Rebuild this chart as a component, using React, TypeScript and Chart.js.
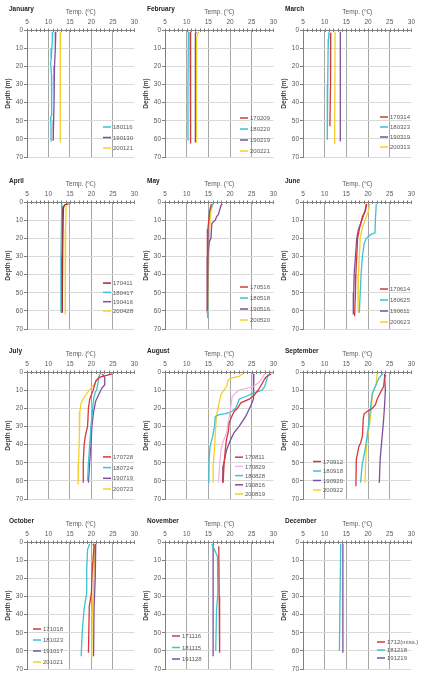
import React, { useEffect, useRef } from "react";
import { Chart, registerables } from "chart.js";
Chart.register(...registerables);

// ---------- colours ----------
const RED = "#d5383b";
const DARKRED = "#a3282c";
const CYAN = "#3cc2d2";
const PURPLE = "#7f4f9e";
const YELLOW = "#f6cf2a";
const PINK = "#f2b6e8";

// ---------- data (depth in m, temperature in °C) ----------
// January
const jan180116Depth = [1, 5, 10, 17, 18, 25, 35, 47, 48, 55, 61.5];
const jan180116Temp = [11.0, 10.9, 10.8, 10.6, 10.5, 10.7, 10.8, 10.7, 10.5, 10.6, 10.6];
const jan190130Depth = [1, 10, 20, 30, 40, 50, 61];
const jan190130Temp = [11.7, 11.6, 11.4, 11.3, 11.3, 11.2, 11.1];
const jan200121Depth = [1, 20, 40, 62];
const jan200121Temp = [12.8, 12.8, 12.7, 12.7];
// February
const feb170209Depth = [1, 30, 62.5];
const feb170209Temp = [10.8, 10.9, 10.9];
const feb180220Depth = [1, 30, 61];
const feb180220Temp = [10.4, 10.3, 10.3];
const feb190219Depth = [1, 2, 30, 62];
const feb190219Temp = [12.2, 12.0, 12.0, 12.0];
const feb200221Depth = [1, 2, 4, 30, 62];
const feb200221Temp = [12.8, 12.5, 12.3, 12.3, 12.2];
// March
const mar170314Depth = [1.5, 10, 30, 53];
const mar170314Temp = [11.4, 11.4, 11.3, 11.2];
const mar180323Depth = [1, 5, 10, 30, 60.5];
const mar180323Temp = [11.0, 10.9, 10.8, 10.7, 10.6];
const mar190319Depth = [1, 61.5];
const mar190319Temp = [13.6, 13.6];
const mar200313Depth = [1, 63];
const mar200313Temp = [12.4, 12.3];
// April
const apr170411Depth = [1, 1.5, 3, 10, 30, 61];
const apr170411Temp = [14.7, 13.8, 13.5, 13.4, 13.3, 13.2];
const apr180417Depth = [1, 30, 61];
const apr180417Temp = [13.1, 12.9, 12.9];
const apr190416Depth = [2, 3, 10, 30, 61];
const apr190416Temp = [13.5, 13.3, 13.3, 13.1, 13.2];
const apr200428Depth = [1, 2, 15, 62];
const apr200428Temp = [14.3, 14.1, 14.0, 13.9];
// May
const may170516Depth = [1, 3, 5, 10, 15, 20, 30, 45, 60];
const may170516Temp = [15.7, 15.5, 15.3, 15.1, 14.9, 14.9, 14.8, 14.7, 14.7];
const may180518Depth = [1, 3, 5, 10, 20, 30, 40, 50, 64];
const may180518Temp = [16.1, 15.7, 15.2, 15.1, 14.9, 14.9, 14.8, 14.8, 14.8];
const may190516Depth = [1, 2, 7, 8, 10, 11, 12, 20, 22, 30, 45, 61];
const may190516Temp = [18.2, 17.9, 17.3, 16.9, 16.6, 16.1, 15.8, 15.6, 15.2, 14.9, 14.8, 14.7];
const may200520Depth = [1, 5, 10, 20, 40, 62];
const may200520Temp = [15.9, 15.6, 15.4, 15.2, 15.0, 14.8];
// June
const jun170614Depth = [1, 5, 8, 15, 20, 30, 40, 50, 63];
const jun170614Temp = [19.7, 19.4, 18.7, 18.0, 17.6, 17.4, 17.2, 17.1, 16.9];
const jun180625Depth = [1, 10, 17, 18, 20, 23, 30, 40, 50, 61];
const jun180625Temp = [21.9, 21.7, 21.6, 20.6, 19.6, 19.1, 18.7, 18.4, 18.2, 18.0];
const jun190611Depth = [1, 5, 12, 15, 20, 30, 40, 50, 62];
const jun190611Temp = [19.6, 19.3, 18.3, 17.8, 17.4, 17.1, 16.8, 16.7, 16.6];
const jun200623Depth = [1, 5, 10, 15, 20, 30, 40, 61];
const jun200623Temp = [20.4, 20.1, 19.3, 18.6, 18.2, 18.0, 17.8, 17.7];
// July
const jul170728Depth = [1, 2, 3, 5, 10, 15, 20, 30, 35, 40, 50, 61];
const jul170728Temp = [24.8, 23.3, 21.8, 21.0, 20.4, 19.6, 19.3, 19.1, 18.6, 18.3, 18.1, 18.1];
const jul180724Depth = [1, 5, 10, 11, 15, 20, 30, 40, 50, 60];
const jul180724Temp = [21.9, 21.6, 21.2, 20.9, 20.5, 20.3, 19.9, 19.6, 19.3, 19.1];
const jul190719Depth = [1, 3, 7, 9, 12, 16, 22, 30, 40, 50, 61];
const jul190719Temp = [22.5, 23.1, 23.1, 22.4, 21.8, 21.0, 20.5, 20.1, 19.9, 19.6, 19.3];
const jul200723Depth = [1, 3, 7, 10, 14, 17, 22, 35, 50, 62];
const jul200723Temp = [22.0, 21.8, 20.6, 19.5, 18.3, 17.6, 17.3, 17.2, 17.0, 16.9];
// August
const aug170811Depth = [1, 3, 8, 10, 13, 15, 17, 20, 22, 24.5, 28, 33, 37, 43, 52, 61];
const aug170811Temp = [29.5, 28.2, 27.0, 26.5, 25.5, 24.4, 22.5, 21.7, 20.9, 20.4, 19.8, 19.6, 19.2, 18.9, 18.6, 18.4];
const aug170829Depth = [1, 5, 8, 10, 11.5, 13.5, 19, 24.5, 33.5, 39, 43, 52, 61];
const aug170829Temp = [28.0, 27.0, 25.5, 22.1, 21.3, 20.5, 20.2, 19.8, 19.2, 18.3, 17.9, 17.6, 17.3];
const aug180828Depth = [1, 4, 8, 10, 11.5, 13.5, 15, 20, 22, 23, 23.5, 24.5, 30, 35.5, 41, 46.5, 61];
const aug180828Temp = [28.8, 28.5, 28.0, 27.4, 25.5, 23.6, 22.1, 21.3, 20.2, 19.0, 17.5, 16.6, 16.4, 16.0, 15.4, 15.2, 15.1];
const aug190816Depth = [1, 10, 15, 19, 24.5, 30, 33.5, 37, 43, 46.5, 52, 61];
const aug190816Temp = [25.5, 25.5, 25.3, 24.7, 23.6, 22.1, 20.9, 20.2, 19.2, 18.9, 18.4, 18.3];
const aug200819Depth = [1, 2.4, 3.3, 4.2, 8, 10, 12.5, 19, 24.5, 33.5, 43, 52, 61];
const aug200819Temp = [23.0, 22.1, 20.5, 19.6, 19.2, 18.6, 17.9, 17.3, 16.9, 16.6, 16.4, 16.1, 16.1];
// September
const sep170912Depth = [1.5, 3.3, 8, 11.6, 15, 18, 20, 22, 23, 26, 35.5, 39, 41, 44.7, 48, 63];
const sep170912Temp = [24.1, 23.8, 23.6, 22.8, 22.1, 21.7, 21.0, 19.6, 19.1, 18.9, 18.7, 18.3, 17.9, 17.6, 17.3, 17.2];
const sep180918Depth = [1, 3.3, 8, 11.6, 19, 28, 37, 43, 48, 52, 61];
const sep180918Temp = [23.4, 22.5, 21.7, 21.0, 20.6, 20.2, 19.7, 19.3, 18.9, 18.6, 18.3];
const sep190920Depth = [1, 10, 19, 26, 37, 48, 61];
const sep190920Temp = [23.8, 24.0, 23.8, 23.6, 23.2, 22.8, 22.6];
const sep200922Depth = [1, 6, 11.6, 19, 28, 37, 46.5, 61];
const sep200922Temp = [22.1, 21.9, 21.1, 20.8, 20.4, 19.8, 19.5, 19.3];
// October
const oct171018Depth = [1, 2.4, 15, 28, 35.5, 61];
const oct171018Temp = [20.4, 20.6, 20.2, 20.0, 19.5, 19.3];
const oct181023Depth = [1, 4.2, 15, 28, 37, 48, 63];
const oct181023Temp = [19.6, 19.1, 18.9, 18.9, 18.3, 17.9, 17.6];
const oct191017Depth = [1, 19, 37, 63];
const oct191017Temp = [21.0, 20.9, 20.6, 20.5];
const oct201021Depth = [1, 19, 37, 64];
const oct201021Temp = [20.8, 20.6, 20.2, 20.1];
// November
const nov171116Depth = [2.4, 30, 61];
const nov171116Temp = [17.4, 17.5, 17.6];
const nov181115Depth = [1, 4.2, 8, 28, 37, 60];
const nov181115Temp = [15.8, 16.4, 17.1, 17.2, 16.9, 16.7];
const nov191128Depth = [1, 63];
const nov191128Temp = [16.1, 16.1];
// December
const dec1712Depth: number[] = [];
const dec1712Temp: number[] = [];
const dec181218Depth = [1, 60];
const dec181218Temp = [13.7, 13.4];
const dec191219Depth = [1, 61];
const dec191219Temp = [14.2, 14.2];

// ---------- axis ticks ----------
const TEMP_MIN = 5;
const TEMP_MAX = 30;
const TEMP_STEP = 5;
const DEPTH_MIN = 0;
const DEPTH_MAX = 70;
const DEPTH_STEP = 10;

type Series = { label: string; depth: number[]; temp: number[]; color: string };
type Panel = {
  month: string;
  col: number;
  row: number;
  series: Series[];
  legendX: number;
  legendGap: number;
  legendStep: number;
};

const s = (label: string, depth: number[], temp: number[], color: string): Series => ({ label, depth, temp, color });

const PANELS: Panel[] = [
  { month: "January", col: 0, row: 0, legendX: 76, legendGap: 9, legendStep: 10.5, series: [
    s("180116", jan180116Depth, jan180116Temp, CYAN),
    s("190130", jan190130Depth, jan190130Temp, PURPLE),
    s("200121", jan200121Depth, jan200121Temp, YELLOW)] },
  { month: "February", col: 1, row: 0, legendX: 75, legendGap: 6, legendStep: 11, series: [
    s("170209", feb170209Depth, feb170209Temp, RED),
    s("180220", feb180220Depth, feb180220Temp, CYAN),
    s("190219", feb190219Depth, feb190219Temp, PURPLE),
    s("200221", feb200221Depth, feb200221Temp, YELLOW)] },
  { month: "March", col: 2, row: 0, legendX: 77, legendGap: 10, legendStep: 10, series: [
    s("170314", mar170314Depth, mar170314Temp, RED),
    s("180323", mar180323Depth, mar180323Temp, CYAN),
    s("190319", mar190319Depth, mar190319Temp, PURPLE),
    s("200313", mar200313Depth, mar200313Temp, YELLOW)] },
  { month: "April", col: 0, row: 1, legendX: 76, legendGap: 18, legendStep: 9.3, series: [
    s("170411", apr170411Depth, apr170411Temp, DARKRED),
    s("180417", apr180417Depth, apr180417Temp, CYAN),
    s("190416", apr190416Depth, apr190416Temp, PURPLE),
    s("200428", apr200428Depth, apr200428Temp, YELLOW)] },
  { month: "May", col: 1, row: 1, legendX: 75, legendGap: 9, legendStep: 11, series: [
    s("170516", may170516Depth, may170516Temp, RED),
    s("180518", may180518Depth, may180518Temp, CYAN),
    s("190516", may190516Depth, may190516Temp, PURPLE),
    s("200520", may200520Depth, may200520Temp, YELLOW)] },
  { month: "June", col: 2, row: 1, legendX: 77, legendGap: 7, legendStep: 11, series: [
    s("170614", jun170614Depth, jun170614Temp, RED),
    s("180625", jun180625Depth, jun180625Temp, CYAN),
    s("190611", jun190611Depth, jun190611Temp, PURPLE),
    s("200623", jun200623Depth, jun200623Temp, YELLOW)] },
  { month: "July", col: 0, row: 2, legendX: 76, legendGap: 10, legendStep: 10.7, series: [
    s("170728", jul170728Depth, jul170728Temp, RED),
    s("180724", jul180724Depth, jul180724Temp, CYAN),
    s("190719", jul190719Depth, jul190719Temp, PURPLE),
    s("200723", jul200723Depth, jul200723Temp, YELLOW)] },
  { month: "August", col: 1, row: 2, legendX: 70, legendGap: 5, legendStep: 9.2, series: [
    s("170811", aug170811Depth, aug170811Temp, RED),
    s("170829", aug170829Depth, aug170829Temp, PINK),
    s("180828", aug180828Depth, aug180828Temp, CYAN),
    s("190816", aug190816Depth, aug190816Temp, PURPLE),
    s("200819", aug200819Depth, aug200819Temp, YELLOW)] },
  { month: "September", col: 2, row: 2, legendX: 10, legendGap: 9, legendStep: 9.5, series: [
    s("170912", sep170912Depth, sep170912Temp, RED),
    s("180918", sep180918Depth, sep180918Temp, CYAN),
    s("190920", sep190920Depth, sep190920Temp, PURPLE),
    s("200922", sep200922Depth, sep200922Temp, YELLOW)] },
  { month: "October", col: 0, row: 3, legendX: 6, legendGap: 7, legendStep: 11, series: [
    s("171018", oct171018Depth, oct171018Temp, RED),
    s("181023", oct181023Depth, oct181023Temp, CYAN),
    s("191017", oct191017Depth, oct191017Temp, PURPLE),
    s("201021", oct201021Depth, oct201021Temp, YELLOW)] },
  { month: "November", col: 1, row: 3, legendX: 7, legendGap: 10, legendStep: 11.5, series: [
    s("171116", nov171116Depth, nov171116Temp, RED),
    s("181115", nov181115Depth, nov181115Temp, CYAN),
    s("191128", nov191128Depth, nov191128Temp, PURPLE)] },
  { month: "December", col: 2, row: 3, legendX: 74, legendGap: 11, legendStep: 8, series: [
    s("1712(miss.)", dec1712Depth, dec1712Temp, RED),
    s("181218", dec181218Depth, dec181218Temp, CYAN),
    s("191219", dec191219Depth, dec191219Temp, PURPLE)] },
];

// ---------- geometry ----------
const COL_PLOT_LEFT = [27, 165, 303];
const COL_PLOT_W = [109, 110, 110];
const ROW_PLOT_TOP = [30, 202, 372, 542];
const PLOT_H = 127;
const Y_AXIS_W = 27;
const X_AXIS_H = 30;
const PAD_R = 6;
const PAD_B = 6;

const FONT = '"Liberation Sans", Arial, sans-serif';
const TEXT = "#595959";

const panelPlugin = {
  id: "panelDeco",
  afterDraw(chart: any, _args: any, opts: any) {
    const { ctx, chartArea } = chart;
    const xs = chart.scales.x;
    ctx.save();
    // minor ticks on the top axis
    ctx.strokeStyle = "#7f7f7f";
    ctx.lineWidth = 1;
    for (let v = TEMP_MIN; v <= TEMP_MAX; v += 1) {
      const px = Math.round(xs.getPixelForValue(v)) + 0.5;
      ctx.beginPath();
      ctx.moveTo(px, chartArea.top - 1.5);
      ctx.lineTo(px, chartArea.top + 2);
      ctx.stroke();
    }
    // month label
    ctx.fillStyle = "#262626";
    ctx.font = `bold 6.5px ${FONT}`;
    ctx.textBaseline = "middle";
    ctx.textAlign = "left";
    ctx.fillText(opts.month, 9, 9);
    // inline legend
    const ds = chart.data.datasets;
    const n = ds.length;
    ctx.font = `6px ${FONT}`;
    ds.forEach((d: any, i: number) => {
      const y = chartArea.bottom - opts.gap - (n - 1 - i) * opts.step;
      const x = chartArea.left + opts.x;
      ctx.strokeStyle = d.borderColor;
      ctx.lineWidth = 1.5;
      ctx.beginPath();
      ctx.moveTo(x, y);
      ctx.lineTo(x + 8, y);
      ctx.stroke();
      ctx.fillStyle = TEXT;
      ctx.fillText(d.label, x + 10, y + 0.5);
    });
    ctx.restore();
  },
};

function PanelChart({ panel }: { panel: Panel }) {
  const ref = useRef<HTMLCanvasElement>(null);
  const left = COL_PLOT_LEFT[panel.col] - Y_AXIS_W;
  const top = ROW_PLOT_TOP[panel.row] - X_AXIS_H;
  const w = Y_AXIS_W + COL_PLOT_W[panel.col] + PAD_R;
  const h = X_AXIS_H + PLOT_H + PAD_B;

  useEffect(() => {
    if (!ref.current) return;
    const chart = new Chart(ref.current, {
      type: "scatter",
      data: {
        datasets: panel.series.map((se) => ({
          label: se.label,
          data: se.temp.map((t, i) => ({ x: t, y: se.depth[i] })),
          borderColor: se.color,
          backgroundColor: se.color,
          borderWidth: 1.3,
          showLine: true,
          pointRadius: 0,
          tension: 0,
        })),
      },
      options: {
        responsive: false,
        animation: false,
        devicePixelRatio: 1,
        layout: { padding: { left: 0, top: 0, right: PAD_R, bottom: PAD_B } },
        plugins: {
          legend: { display: false },
          tooltip: { enabled: false },
          panelDeco: { month: panel.month, x: panel.legendX, gap: panel.legendGap, step: panel.legendStep },
        } as any,
        scales: {
          x: {
            type: "linear",
            position: "top",
            min: TEMP_MIN,
            max: TEMP_MAX,
            ticks: { stepSize: TEMP_STEP, color: TEXT, font: { size: 6.5, family: FONT }, padding: 4, maxRotation: 0 },
            grid: {
              drawTicks: false,
              color: (c: any) => (c.tick && c.tick.value > TEMP_MIN && c.tick.value < TEMP_MAX ? "#a6a6a6" : "rgba(0,0,0,0)"),
              lineWidth: 1,
            },
            border: { display: true, color: "#7f7f7f", width: 1 },
            title: { display: true, text: "Temp. (℃)", color: TEXT, font: { size: 6.5, family: FONT }, padding: { top: 8, bottom: 0 } },
            afterFit: (sc: any) => { sc.height = X_AXIS_H; },
          },
          y: {
            type: "linear",
            reverse: true,
            min: DEPTH_MIN,
            max: DEPTH_MAX,
            ticks: { stepSize: DEPTH_STEP, color: TEXT, font: { size: 6.5, family: FONT }, padding: 1 },
            grid: {
              drawTicks: true,
              tickLength: 3,
              tickColor: "#7f7f7f",
              color: (c: any) => (c.tick && c.tick.value > DEPTH_MIN ? "#d9d9d9" : "rgba(0,0,0,0)"),
              lineWidth: 1,
            },
            border: { display: true, color: "#7f7f7f", width: 1 },
            title: { display: true, text: "Depth (m)", color: "#404040", font: { size: 6.5, family: FONT, weight: "bold" }, padding: { top: 4, bottom: 0 } },
            afterFit: (sc: any) => { sc.width = Y_AXIS_W; },
          },
        },
      } as any,
      plugins: [panelPlugin],
    });
    return () => chart.destroy();
  }, [panel]);

  return (
    <div style={{ position: "absolute", left, top, width: w, height: h }}>
      <canvas ref={ref} width={w} height={h} style={{ width: w, height: h, display: "block" }} />
    </div>
  );
}

export default function App() {
  return (
    <div style={{ position: "absolute", left: 0, top: 0, width: 425, height: 679, background: "#ffffff" }}>
      {PANELS.map((p) => (
        <PanelChart key={p.month} panel={p} />
      ))}
    </div>
  );
}
